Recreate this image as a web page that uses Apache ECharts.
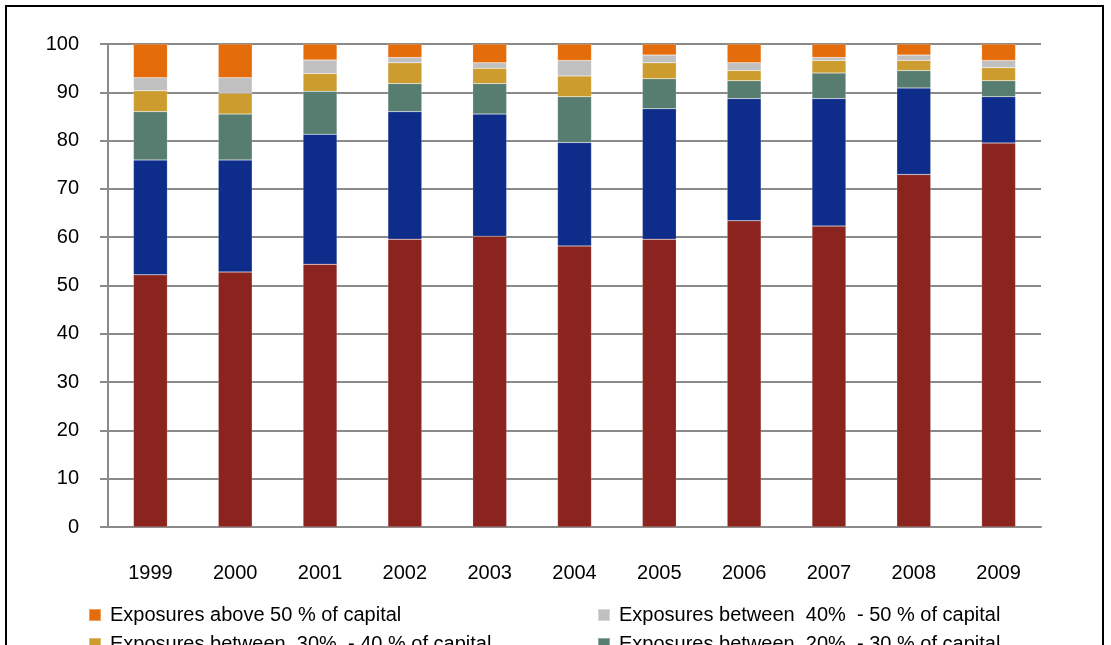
<!DOCTYPE html>
<html>
<head>
<meta charset="utf-8">
<script src="https://cdn.jsdelivr.net/npm/echarts@6/dist/echarts.min.js"></script>
<style>
html,body{margin:0;padding:0;background:#fff;}
#frame{position:absolute;left:5px;top:5px;width:1099px;height:700px;border:2px solid #000;box-sizing:border-box;}
#chart{position:absolute;left:0;top:0;width:1111px;height:645px;}
</style>
</head>
<body>
<div id="frame"></div>
<div id="chart"></div>
<script>
const years = ['1999','2000','2001','2002','2003','2004','2005','2006','2007','2008','2009'];
const below10   = [52.2, 52.8, 54.4, 59.6, 60.2, 58.2, 59.6, 63.4, 62.3, 73.0, 79.5];
const b10to20   = [23.8, 23.2, 26.9, 26.4, 25.3, 21.4, 27.0, 25.3, 26.4, 17.9, 9.6];
const b20to30   = [10.0, 9.5, 8.9, 5.8, 6.3, 9.5, 6.2, 3.7, 5.3, 3.6, 3.3];
const b30to40   = [4.3, 4.3, 3.7, 4.3, 3.2, 4.3, 3.3, 2.1, 2.6, 2.1, 2.7];
const b40to50   = [2.7, 3.2, 2.8, 1.1, 1.1, 3.2, 1.6, 1.6, 0.6, 1.1, 1.5];
const above50   = [7.0, 7.0, 3.3, 2.8, 3.9, 3.4, 2.3, 3.9, 2.8, 2.3, 3.4];
const yTicks = [0,10,20,30,40,50,60,70,80,90,100];

const names = {
  above50: 'Exposures above 50 % of capital',
  b40to50: 'Exposures between  40%  - 50 % of capital',
  b30to40: 'Exposures between  30%  - 40 % of capital',
  b20to30: 'Exposures between  20%  - 30 % of capital',
  b10to20: 'Exposures between  10%  - 20 % of capital',
  below10: 'Exposures below 10 % of capital'
};
const colors = {
  below10: '#8B241E', b10to20: '#0E2C8A', b20to30: '#577D70',
  b30to40: '#CC9C2E', b40to50: '#C0C0C0', above50: '#E46C0A'
};
const seriesData = {below10, b10to20, b20to30, b30to40, b40to50, above50};
const order = ['below10','b10to20','b20to30','b30to40','b40to50','above50'];

const series = order.map(k => ({
  name: names[k], type: 'bar', stack: 'total', barWidth: '40%',
  data: seriesData[k],
  itemStyle: {color: colors[k], borderColor: 'rgba(255,255,255,0.35)', borderWidth: 0.5},
  emphasis: {disabled: true}
}));

const font = '"Liberation Sans", Arial, sans-serif';
// legend layout: two columns, rows top-down
const legendSlots = [
  ['above50', 88, 604], ['b40to50', 597, 604],
  ['b30to40', 88, 633], ['b20to30', 597, 633],
  ['b10to20', 88, 662], ['below10', 597, 662]
];
const legends = legendSlots.map(([k, x, y]) => ({
  left: x, top: y, data: [names[k]], icon: 'rect',
  itemWidth: 12, itemHeight: 12, padding: 0,
  selectedMode: false,
  textStyle: {fontSize: 20, lineHeight: 22, color: '#000', fontFamily: font, padding: [0,0,0,4]}
}));

const chart = echarts.init(document.getElementById('chart'), null, {renderer: 'canvas'});
chart.setOption({
  animation: false,
  backgroundColor: 'transparent',
  grid: {left: 108, right: 70, top: 44, bottom: 118},
  legend: legends,
  xAxis: {
    type: 'category', data: years,
    axisLine: {lineStyle: {color: '#8a8a8a', width: 2}},
    axisTick: {length: 8, lineStyle: {color: '#8a8a8a', width: 2}},
    axisLabel: {margin: 36, fontSize: 20, color: '#000', fontFamily: font}
  },
  yAxis: {
    type: 'value', min: 0, max: 100, interval: 10,
    axisLine: {show: true, lineStyle: {color: '#8a8a8a', width: 2}},
    axisTick: {show: true, length: 8, lineStyle: {color: '#8a8a8a', width: 2}},
    splitLine: {lineStyle: {color: '#8a8a8a', width: 2}},
    axisLabel: {margin: 29, fontSize: 20, color: '#000', fontFamily: font,
      formatter: v => yTicks.includes(v) ? String(v) : ''}
  },
  series: series
});
</script>
</body>
</html>
